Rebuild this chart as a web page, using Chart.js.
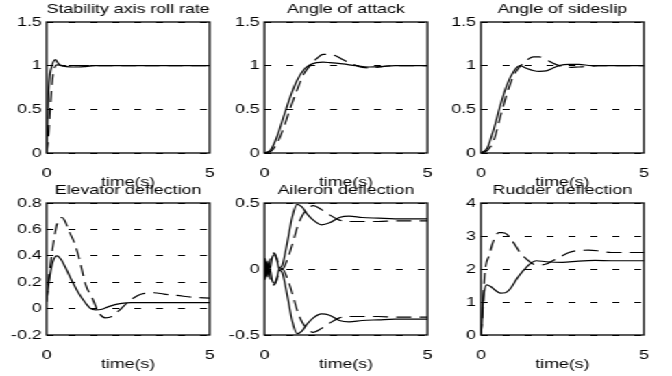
<!DOCTYPE html>
<html>
<head>
<meta charset="utf-8">
<script src="https://cdn.jsdelivr.net/npm/chart.js@4.4.1/dist/chart.umd.min.js"></script>
<style>
html, body { margin: 0; padding: 0; background: #fff; overflow: hidden; }
#fig { position: absolute; left: 0; top: 0; width: 490.5px; height: 376px; transform: scaleX(1.37); transform-origin: 0 0; }
.cell { position: absolute; }
</style>
</head>
<body>
<div id="fig"></div>
<script>
// --- data (time in s) ---
const rollSolidT = [0, 0.03, 0.06, 0.1, 0.15, 0.2, 0.27, 0.35, 0.45, 0.6, 0.8, 1.0, 1.2, 1.5, 2, 3, 4, 5];
const rollSolidY = [0, 0.35, 0.7, 0.9, 0.98, 1.04, 1.07, 1.03, 1.0, 0.99, 0.985, 0.985, 0.99, 1.0, 1.0, 1.0, 1.0, 1.0];
const rollDashT = [0, 0.05, 0.1, 0.15, 0.2, 0.25, 0.32, 0.4, 0.6, 1.0, 2, 5];
const rollDashY = [0, 0.15, 0.45, 0.72, 0.9, 0.98, 1.01, 1.005, 1.0, 1.0, 1.0, 1.0];

const alphaSolidT = [0, 0.2, 0.4, 0.6, 0.8, 1.0, 1.2, 1.4, 1.6, 1.8, 2.0, 2.4, 2.8, 3.2, 3.6, 4, 5];
const alphaSolidY = [0, 0.04, 0.2, 0.43, 0.65, 0.83, 0.95, 1.01, 1.035, 1.04, 1.035, 1.02, 1.0, 0.985, 0.99, 1.0, 1.0];
const alphaDashT = [0, 0.2, 0.4, 0.6, 0.8, 1.0, 1.2, 1.4, 1.6, 1.8, 2.0, 2.2, 2.4, 2.7, 3.0, 3.3, 3.6, 4, 5];
const alphaDashY = [0, 0.02, 0.12, 0.3, 0.52, 0.72, 0.9, 1.0, 1.08, 1.13, 1.13, 1.11, 1.07, 1.02, 0.98, 0.975, 0.99, 1.0, 1.0];

const betaSolidT = [0, 0.2, 0.4, 0.6, 0.8, 1.0, 1.2, 1.4, 1.6, 1.8, 2.0, 2.2, 2.4, 2.7, 3.0, 3.4, 4, 5];
const betaSolidY = [0, 0.06, 0.28, 0.55, 0.78, 0.93, 1.0, 0.97, 0.945, 0.935, 0.94, 0.97, 1.0, 1.015, 1.015, 1.0, 1.0, 1.0];
const betaDashT = [0, 0.2, 0.4, 0.6, 0.8, 1.0, 1.2, 1.4, 1.6, 1.8, 2.0, 2.2, 2.4, 2.7, 3.0, 3.3, 3.6, 4, 5];
const betaDashY = [0, 0.03, 0.15, 0.42, 0.68, 0.88, 0.99, 1.06, 1.1, 1.1, 1.07, 1.03, 1.0, 0.98, 0.985, 0.99, 1.0, 1.0, 1.0];

const elevSolidT = [0, 0.1, 0.2, 0.32, 0.45, 0.6, 0.8, 1.0, 1.2, 1.35, 1.5, 1.7, 1.9, 2.1, 2.3, 2.6, 3, 4, 5];
const elevSolidY = [0.06, 0.25, 0.36, 0.4, 0.37, 0.3, 0.2, 0.11, 0.04, 0.0, -0.01, -0.005, 0.015, 0.03, 0.04, 0.045, 0.045, 0.045, 0.045];
const elevDashT = [0, 0.1, 0.2, 0.3, 0.4, 0.47, 0.55, 0.7, 0.85, 1.0, 1.2, 1.4, 1.6, 1.8, 2.0, 2.2, 2.5, 2.8, 3.0, 3.3, 3.6, 4.0, 4.5, 5];
const elevDashY = [0.05, 0.3, 0.48, 0.62, 0.68, 0.69, 0.67, 0.58, 0.5, 0.38, 0.18, 0.08, -0.03, -0.07, -0.06, -0.02, 0.05, 0.1, 0.115, 0.12, 0.11, 0.1, 0.085, 0.08];

const ailT = [0, 0.03, 0.06, 0.09, 0.12, 0.17, 0.24, 0.31, 0.38, 0.45, 0.55, 0.7, 0.85, 1.0, 1.15, 1.3, 1.5, 1.75, 2.0, 2.3, 2.6, 3.0, 3.5, 4.0, 5.0];
const ailSolidUp = [0, 0.08, -0.03, 0.06, -0.04, 0.0, -0.09, -0.11, -0.07, 0.0, 0.03, 0.2, 0.39, 0.49, 0.47, 0.42, 0.37, 0.335, 0.35, 0.39, 0.40, 0.39, 0.385, 0.38, 0.38];
const ailSolidDown = [0, -0.08, 0.03, -0.06, 0.04, 0.0, 0.09, 0.11, 0.07, 0.0, -0.03, -0.2, -0.39, -0.49, -0.47, -0.42, -0.37, -0.34, -0.35, -0.39, -0.40, -0.39, -0.385, -0.38, -0.38];
const ailDashUp = [0, -0.05, 0.05, -0.03, 0.0, 0.07, 0.12, 0.12, 0.08, 0.03, 0.0, 0.07, 0.18, 0.31, 0.4, 0.45, 0.48, 0.45, 0.41, 0.37, 0.36, 0.36, 0.36, 0.365, 0.365];
const ailDashDown = [0, 0.05, -0.05, 0.03, 0.0, -0.07, -0.12, -0.12, -0.08, -0.03, 0.0, -0.07, -0.18, -0.31, -0.4, -0.45, -0.48, -0.45, -0.41, -0.37, -0.36, -0.36, -0.36, -0.365, -0.365];

const rudSolidT = [0, 0.03, 0.06, 0.1, 0.18, 0.3, 0.45, 0.6, 0.75, 0.9, 1.1, 1.3, 1.5, 1.7, 2.0, 2.5, 3.0, 3.5, 4, 5];
const rudSolidY = [0, 0.3, 0.9, 1.3, 1.52, 1.47, 1.35, 1.27, 1.28, 1.4, 1.7, 1.95, 2.15, 2.25, 2.22, 2.2, 2.24, 2.26, 2.25, 2.25];
const rudDashT = [0, 0.05, 0.1, 0.15, 0.25, 0.35, 0.45, 0.55, 0.65, 0.8, 1.0, 1.2, 1.4, 1.6, 1.8, 2.0, 2.2, 2.4, 2.7, 3.0, 3.3, 3.6, 4.0, 4.5, 5];
const rudDashY = [0, 0.6, 1.6, 2.1, 2.4, 2.75, 3.0, 3.1, 3.1, 3.05, 2.8, 2.5, 2.3, 2.15, 2.12, 2.15, 2.25, 2.35, 2.5, 2.56, 2.57, 2.55, 2.5, 2.5, 2.5];

const xTicks = [0, 5];
const unitTicks = [0, 0.5, 1, 1.5];
const elevTicks = [-0.2, 0, 0.2, 0.4, 0.6, 0.8];
const ailTicks = [-0.5, 0, 0.5];
const rudTicks = [0, 1, 2, 3, 4];

// --- drawing ---
Chart.defaults.font.family = "'Liberation Sans', Arial, sans-serif";
Chart.defaults.font.size = 13;
Chart.defaults.color = '#000';

const pts = (t, y) => t.map((v, i) => ({ x: v, y: y[i] }));

const boxPlugin = {
    id: 'box',
    afterDatasetsDraw(chart) {
        const { ctx, chartArea: a } = chart;
        ctx.save();
        ctx.strokeStyle = '#000';
        ctx.lineWidth = 1.3;
        ctx.strokeRect(a.left, a.top, a.right - a.left, a.bottom - a.top);
        ctx.restore();
    }
};

function line(t, y, dashed) {
    return {
        data: pts(t, y),
        borderColor: '#000',
        borderWidth: 1.2,
        borderDash: dashed ? [11, 6] : [],
        pointRadius: 0,
        cubicInterpolationMode: 'monotone',
        fill: false
    };
}

function makePlot(left, top, height, title, yTicks, datasets) {
    const div = document.createElement('div');
    div.className = 'cell';
    div.style.left = left + 'px';
    div.style.top = top + 'px';
    const canvas = document.createElement('canvas');
    canvas.width = 179;
    canvas.height = height;
    div.appendChild(canvas);
    document.getElementById('fig').appendChild(div);

    new Chart(canvas.getContext('2d'), {
        type: 'line',
        data: { datasets: datasets },
        options: {
            responsive: false,
            animation: false,
            layout: { padding: { left: 0, right: 30, top: 0, bottom: 0 } },
            plugins: {
                legend: { display: false },
                tooltip: { enabled: false },
                title: {
                    display: true,
                    text: title,
                    fullSize: false,
                    font: { size: 13, weight: 'normal' },
                    padding: { top: 1.7, bottom: 4.7 }
                }
            },
            scales: {
                x: {
                    type: 'linear',
                    min: 0,
                    max: 5,
                    afterBuildTicks: s => { s.ticks = xTicks.map(v => ({ value: v })); },
                    afterFit: s => { s.height = 37; },
                    grid: { display: false },
                    border: { display: false },
                    ticks: { padding: 4.2, maxRotation: 0, callback: v => String(v) },
                    title: { display: true, text: 'time(s)', padding: 0, font: { size: 13 } }
                },
                y: {
                    min: yTicks[0],
                    max: yTicks[yTicks.length - 1],
                    afterBuildTicks: s => { s.ticks = yTicks.map(v => ({ value: v })); },
                    afterFit: s => { s.width = 30; },
                    grid: { color: '#000', lineWidth: 1, drawTicks: false },
                    border: { display: false, dash: [5, 11] },
                    ticks: { padding: 3.5, callback: v => String(v) }
                }
            }
        },
        plugins: [boxPlugin]
    });
}

makePlot(4.3, 0, 190, 'Stability axis roll rate', unitTicks,
    [line(rollSolidT, rollSolidY, false), line(rollDashT, rollDashY, true)]);
makePlot(162.7, 0, 190, 'Angle of attack', unitTicks,
    [line(alphaSolidT, alphaSolidY, false), line(alphaDashT, alphaDashY, true)]);
makePlot(320.6, 0, 190, 'Angle of sideslip', unitTicks,
    [line(betaSolidT, betaSolidY, false), line(betaDashT, betaDashY, true)]);
makePlot(4.3, 181, 191, 'Elevator deflection', elevTicks,
    [line(elevSolidT, elevSolidY, false), line(elevDashT, elevDashY, true)]);
makePlot(162.7, 181, 191, 'Aileron deflection', ailTicks,
    [line(ailT, ailSolidUp, false), line(ailT, ailSolidDown, false),
     line(ailT, ailDashUp, true), line(ailT, ailDashDown, true)]);
makePlot(321.3, 181, 191, 'Rudder deflection', rudTicks,
    [line(rudSolidT, rudSolidY, false), line(rudDashT, rudDashY, true)]);
</script>
</body>
</html>
